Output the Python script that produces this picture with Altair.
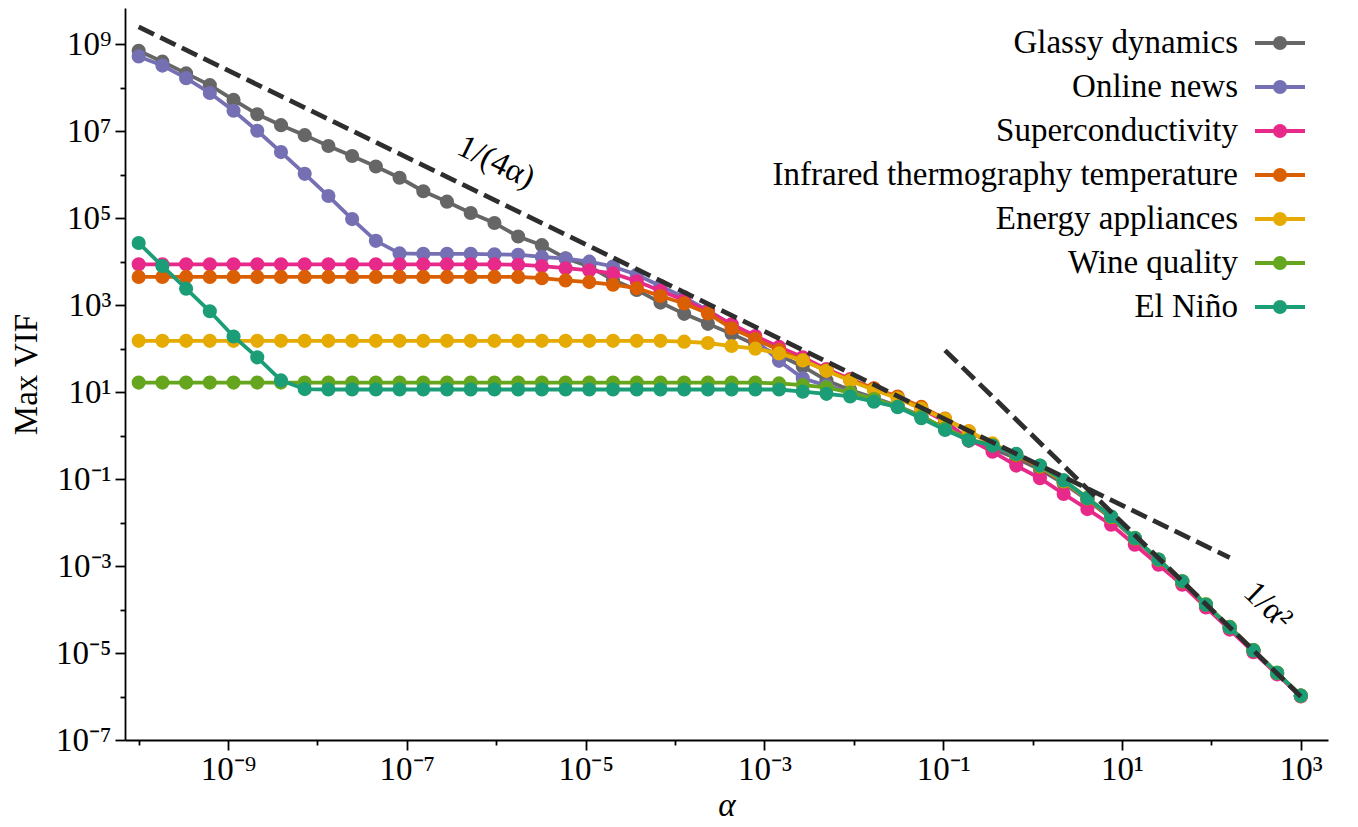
import altair as alt
import numpy as np
import pandas as pd

ALPHA = np.logspace(-10, 3, 50)

SERIES = ["Glassy dynamics", "Online news", "Superconductivity",
          "Infrared thermography temperature", "Energy appliances",
          "Wine quality", "El Niño"]
COLORS = ["#666666", "#7570b3", "#e7298a", "#d95f02", "#e6ab02", "#66a61e", "#1b9e77"]

# log10(Max VIF) at each alpha
LOG_GLASSY = [8.85, 8.60, 8.33, 8.06, 7.72, 7.39, 7.14, 6.91, 6.66, 6.43,
              6.19, 5.93, 5.62, 5.38, 5.12, 4.89, 4.58, 4.38, 4.08, 3.89,
              3.58, 3.35, 3.06, 2.80, 2.57, 2.34, 2.09, 1.85, 1.59, 1.27,
              1.05, 0.87, 0.68, 0.45, 0.16, -0.12, -0.30, -0.52, -0.78, -1.10,
              -1.48, -1.90, -2.38, -2.87, -3.37, -3.90, -4.42, -4.95, -5.47, -5.99]
LOG_ONLINE = [8.72, 8.51, 8.22, 7.88, 7.47, 7.01, 6.52, 6.02, 5.51, 4.98,
              4.48, 4.19, 4.18, 4.18, 4.18, 4.17, 4.16, 4.11, 4.07, 4.00,
              3.89, 3.70, 3.44, 3.18, 2.88, 2.55, 2.20, 1.72, 1.32, 1.15,
              1.00, 0.85, 0.67, 0.43, 0.15, -0.10, -0.25, -0.45, -0.72, -1.06,
              -1.46, -1.88, -2.37, -2.86, -3.36, -3.89, -4.41, -4.94, -5.46, -5.98]
LOG_SUPER = [3.94, 3.94, 3.94, 3.94, 3.94, 3.94, 3.94, 3.94, 3.94, 3.94,
             3.94, 3.94, 3.94, 3.94, 3.94, 3.94, 3.93, 3.90, 3.85, 3.80,
             3.73, 3.55, 3.33, 3.12, 2.86, 2.56, 2.29, 2.04, 1.80, 1.53,
             1.30, 1.08, 0.87, 0.62, 0.32, -0.08, -0.37, -0.69, -0.98, -1.34,
             -1.69, -2.05, -2.51, -2.97, -3.43, -3.95, -4.46, -4.98, -5.49, -6.00]
LOG_INFRARED = [3.65, 3.65, 3.65, 3.65, 3.65, 3.65, 3.65, 3.65, 3.65, 3.65,
                3.65, 3.65, 3.65, 3.65, 3.65, 3.65, 3.65, 3.62, 3.57, 3.53,
                3.47, 3.39, 3.21, 3.04, 2.81, 2.47, 2.22, 1.97, 1.74, 1.50,
                1.28, 1.09, 0.90, 0.66, 0.39, 0.10, -0.20, -0.45, -0.72, -1.06,
                -1.45, -1.88, -2.37, -2.86, -3.36, -3.89, -4.41, -4.94, -5.46, -5.98]
LOG_ENERGY = [2.18, 2.18, 2.18, 2.18, 2.18, 2.18, 2.18, 2.18, 2.18, 2.18,
              2.18, 2.18, 2.18, 2.18, 2.18, 2.18, 2.18, 2.18, 2.18, 2.18,
              2.18, 2.18, 2.18, 2.16, 2.13, 2.06, 2.00, 1.89, 1.73, 1.49,
              1.26, 1.05, 0.86, 0.62, 0.38, 0.10, -0.18, -0.43, -0.70, -1.05,
              -1.44, -1.87, -2.36, -2.85, -3.35, -3.88, -4.40, -4.93, -5.46, -5.98]
LOG_WINE = [1.22, 1.22, 1.22, 1.22, 1.22, 1.22, 1.22, 1.22, 1.22, 1.22,
            1.22, 1.22, 1.22, 1.22, 1.22, 1.22, 1.22, 1.22, 1.22, 1.22,
            1.22, 1.22, 1.22, 1.22, 1.22, 1.22, 1.22, 1.20, 1.16, 1.11,
            0.99, 0.84, 0.67, 0.44, 0.17, -0.08, -0.23, -0.43, -0.69, -1.03,
            -1.43, -1.86, -2.35, -2.85, -3.35, -3.88, -4.40, -4.93, -5.45, -5.98]
LOG_ELNINO = [4.43, 3.90, 3.38, 2.86, 2.28, 1.80, 1.27, 1.07, 1.06, 1.06,
              1.06, 1.06, 1.06, 1.06, 1.06, 1.06, 1.06, 1.06, 1.06, 1.06,
              1.06, 1.06, 1.06, 1.06, 1.06, 1.06, 1.06, 1.06, 1.01, 0.96,
              0.90, 0.78, 0.655, 0.40, 0.13, -0.10, -0.23, -0.42, -0.69, -1.03,
              -1.44, -1.86, -2.36, -2.85, -3.35, -3.89, -4.41, -4.94, -5.46, -5.98]
LOGS = [LOG_GLASSY, LOG_ONLINE, LOG_SUPER, LOG_INFRARED, LOG_ENERGY, LOG_WINE, LOG_ELNINO]

# reference guide lines (end points)
GUIDE_4A_X = [1e-10, 160.0]
GUIDE_4A_Y = [2.5e9, 1.5625e-3]
GUIDE_A2_X = [0.1047, 1000.0]
GUIDE_A2_Y = [91.2, 1e-6]
LABELS_TEXT = ["1/(4α)", "1/α²"]
LABELS_X = [1.0e-6, 430.0]
LABELS_Y = [1.95e6, 1.23e-4]
LABELS_ANGLE = [26, 44]

FONT = "Liberation Serif"

rows = []
for name, logs in zip(SERIES, LOGS):
    for a, l in zip(ALPHA, logs):
        rows.append({"series": name, "alpha": float(a), "vif": float(10.0 ** l)})
df = pd.DataFrame(rows)

guides = pd.DataFrame({
    "guide": ["4a", "4a", "a2", "a2"],
    "alpha": GUIDE_4A_X + GUIDE_A2_X,
    "vif": GUIDE_4A_Y + GUIDE_A2_Y,
})
labels = pd.DataFrame({"text": LABELS_TEXT, "alpha": LABELS_X, "vif": LABELS_Y,
                       "angle": LABELS_ANGLE})

SUP = {"-": "\u207b", "0": "\u2070", "1": "\u00b9", "2": "\u00b2", "3": "\u00b3",
       "4": "\u2074", "5": "\u2075", "6": "\u2076", "7": "\u2077", "8": "\u2078",
       "9": "\u2079"}


def sup(n):
    return "".join(SUP[c] for c in str(n))


E = "round(log(datum.value)/LN10)"


def label_expr(exps):
    parts = [f"{E} == {e} ? '10{sup(e)}'" for e in exps if e % 2 != 0]
    return " : ".join(parts) + " : ''"


X_EXP = list(range(-10, 4))
Y_EXP = list(range(-7, 10))

tick_size = {"condition": {"test": f"{E} % 2 == 0", "value": 5}, "value": 10}

x_axis = alt.Axis(values=[10.0 ** e for e in X_EXP], labelExpr=label_expr(X_EXP),
                  tickSize=tick_size, title="α", titleFontStyle="italic",
                  labelPadding=3, titlePadding=3)
y_axis = alt.Axis(values=[10.0 ** e for e in Y_EXP], labelExpr=label_expr(Y_EXP),
                  tickSize=tick_size, title="Max VIF", labelPadding=4, titlePadding=12)

xs = alt.Scale(type="log", domain=[10 ** -10.153, 10 ** 3.304], nice=False)
ys = alt.Scale(type="log", domain=[1e-7, 10 ** 9.834], nice=False)
cs = alt.Scale(domain=SERIES, range=COLORS)

r1, r2, r3 = 0.20, 0.12, 0.04
SYMBOL = ("M-1,0L1,0"
          f"M{-r1},0a{r1},{r1} 0 1,0 {2*r1},0a{r1},{r1} 0 1,0 {-2*r1},0"
          f"M{-r2},0a{r2},{r2} 0 1,0 {2*r2},0a{r2},{r2} 0 1,0 {-2*r2},0"
          f"M{-r3},0a{r3},{r3} 0 1,0 {2*r3},0a{r3},{r3} 0 1,0 {-2*r3},0")

legend = alt.Legend(title=None, orient="none", legendX=1128, legendY=8,
                    symbolType=SYMBOL, symbolSize=2500, symbolStrokeWidth=4,
                    labelFont=FONT, labelFontSize=33, labelColor="black",
                    labelAlign="right", labelOffset={"expr": "-69"}, labelLimit=800,
                    rowPadding=0, padding=0)

layers = []
for name in SERIES:
    sub = alt.Chart(df).transform_filter(alt.datum.series == name)
    enc = dict(
        x=alt.X("alpha:Q", scale=xs, axis=x_axis),
        y=alt.Y("vif:Q", scale=ys, axis=y_axis),
        color=alt.Color("series:N", scale=cs, legend=legend),
    )
    layers.append(sub.mark_line(strokeWidth=3.8).encode(**enc))
    layers.append(sub.mark_circle(size=200, opacity=1).encode(**enc))

guide_layer = alt.Chart(guides).mark_line(
    color="#2e2e2e", strokeWidth=4.8, strokeDash=[17, 7]
).encode(x=alt.X("alpha:Q", scale=xs), y=alt.Y("vif:Q", scale=ys), detail="guide:N")

text_layers = []
for i in range(len(LABELS_TEXT)):
    text_layers.append(
        alt.Chart(labels.iloc[[i]]).mark_text(
            font=FONT, fontSize=33, color="black", angle=LABELS_ANGLE[i],
            align="center", baseline="middle"
        ).encode(x=alt.X("alpha:Q", scale=xs), y=alt.Y("vif:Q", scale=ys), text="text:N")
    )

chart = alt.layer(*layers, guide_layer, *text_layers).properties(
    width=1203, height=732,
    autosize=alt.AutoSizeParams(type="none"),
    padding={"left": 117, "top": 0, "right": 22, "bottom": 85},
).configure_view(stroke=None).configure_axis(
    grid=False, domainColor="black", domainWidth=1.8, tickColor="black",
    tickWidth=1.8, labelFont=FONT, labelFontSize=33, labelColor="black",
    titleFont=FONT, titleFontSize=33, titleFontWeight="normal", titleColor="black",
)

chart.save("out.html", embed_options={"renderer": "svg", "actions": False})
